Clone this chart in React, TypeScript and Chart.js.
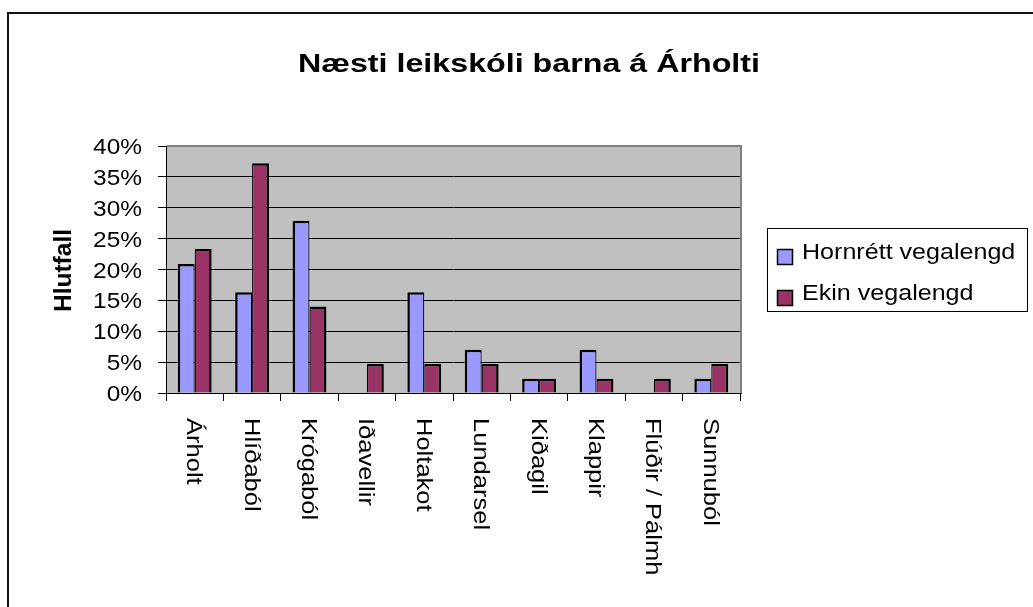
import React, { useEffect, useRef } from 'react';
import { Chart, registerables } from 'chart.js';

Chart.register(...registerables);

const chartTitle = 'Næsti leikskóli barna á Árholti';
const yAxisTitle = 'Hlutfall';
const categories = [
  'Árholt',
  'Hlíðaból',
  'Krógaból',
  'Iðavellir',
  'Holtakot',
  'Lundarsel',
  'Kiðagil',
  'Klappir',
  'Flúðir / Pálmh',
  'Sunnuból',
];
const seriesNames = ['Hornrétt vegalengd', 'Ekin vegalengd'];
const hornrett = [20.9, 16.3, 27.9, 0, 16.3, 7.0, 2.3, 7.0, 0, 2.3];
const ekin = [23.3, 37.2, 14.0, 4.7, 4.7, 4.7, 2.3, 2.3, 2.3, 4.7];
const yMin = 0;
const yMax = 40;
const yStep = 5;

const FONT = '"Liberation Sans", Arial, sans-serif';
const BLUE = '#9999FF';
const PLUM = '#993366';

function drawText(
  ctx: CanvasRenderingContext2D,
  text: string,
  x: number,
  y: number,
  font: string,
  sx: number,
  rot: number,
  align: CanvasTextAlign,
  baseline: CanvasTextBaseline
) {
  ctx.save();
  ctx.translate(x, y);
  ctx.rotate(rot);
  ctx.scale(sx, 1);
  ctx.font = font;
  ctx.textAlign = align;
  ctx.textBaseline = baseline;
  ctx.fillStyle = '#000';
  ctx.fillText(text, 0, 0);
  ctx.restore();
}

function fitScale(ctx: CanvasRenderingContext2D, text: string, font: string, target: number) {
  ctx.save();
  ctx.font = font;
  const w = ctx.measureText(text).width;
  ctx.restore();
  return w > 0 ? target / w : 1;
}

const decorPlugin = {
  id: 'excelDecor',
  beforeDraw(chart: any) {
    const ctx: CanvasRenderingContext2D = chart.ctx;
    const a = chart.chartArea;
    ctx.save();
    ctx.fillStyle = '#fff';
    ctx.fillRect(0, 0, chart.width, chart.height);
    // outer chart frame (only top and left are inside the view)
    ctx.strokeStyle = '#111';
    ctx.lineWidth = 2;
    ctx.beginPath();
    ctx.moveTo(8, chart.height + 5);
    ctx.lineTo(8, 13);
    ctx.lineTo(chart.width + 5, 13);
    ctx.stroke();
    // plot area
    ctx.fillStyle = '#C0C0C0';
    ctx.fillRect(a.left, a.top, a.right - a.left, a.bottom - a.top);
    ctx.restore();
  },
  afterDatasetsDraw(chart: any) {
    const ctx: CanvasRenderingContext2D = chart.ctx;
    const a = chart.chartArea;
    ctx.save();
    ctx.strokeStyle = '#808080';
    ctx.lineWidth = 2;
    ctx.beginPath();
    ctx.moveTo(a.left + 1, a.top);
    ctx.lineTo(a.right + 1, a.top);
    ctx.lineTo(a.right + 1, a.bottom);
    ctx.stroke();
    ctx.strokeStyle = '#000';
    ctx.lineWidth = 1;
    ctx.beginPath();
    ctx.moveTo(a.left, a.bottom + 0.5);
    ctx.lineTo(a.right + 2, a.bottom + 0.5);
    ctx.stroke();
    ctx.restore();
  },
  afterDraw(chart: any) {
    const ctx: CanvasRenderingContext2D = chart.ctx;
    const a = chart.chartArea;

    // title
    const tFont = `bold 26px ${FONT}`;
    drawText(ctx, chartTitle, 529, 72, tFont, fitScale(ctx, chartTitle, tFont, 462), 0, 'center', 'alphabetic');

    // y axis title
    const yFont = `bold 24px ${FONT}`;
    drawText(ctx, yAxisTitle, 71, (a.top + a.bottom) / 2 + 1, yFont, fitScale(ctx, yAxisTitle, yFont, 83), -Math.PI / 2, 'center', 'alphabetic');

    // y tick labels from the scale's own ticks
    const ys = chart.scales.y;
    const tickFont = `22px ${FONT}`;
    ys.ticks.forEach((t: any) => {
      const py = ys.getPixelForValue(t.value);
      drawText(ctx, `${t.value}%`, 142, py + 8, tickFont, 1.11, 0, 'right', 'alphabetic');
    });

    // category labels, rotated clockwise
    const xs = chart.scales.x;
    const lFont = `22px ${FONT}`;
    chart.data.labels.forEach((lab: string, i: number) => {
      const cx = xs.getPixelForTick(i);
      drawText(ctx, lab, cx - 7.5, a.bottom + 25, lFont, 1.16, Math.PI / 2, 'left', 'alphabetic');
    });

    // legend
    ctx.save();
    ctx.strokeStyle = '#000';
    ctx.lineWidth = 1;
    ctx.strokeRect(767.5, 228.5, 260, 83);
    ctx.restore();
    const rows = [
      { my: 249.5, ty: 259 },
      { my: 290.5, ty: 300 },
    ];
    chart.data.datasets.forEach((ds: any, i: number) => {
      const r = rows[i];
      ctx.save();
      ctx.fillStyle = ds.backgroundColor;
      ctx.fillRect(777.5, r.my, 15, 15);
      ctx.strokeStyle = '#000';
      ctx.lineWidth = 1.5;
      ctx.strokeRect(777.5, r.my, 15, 15);
      ctx.restore();
      drawText(ctx, ds.label, 802, r.ty, `22px ${FONT}`, 1.14, 0, 'left', 'alphabetic');
    });
  },
};

export default function App() {
  const ref = useRef<HTMLCanvasElement | null>(null);

  useEffect(() => {
    if (!ref.current) return;
    const chart = new Chart(ref.current, {
      type: 'bar',
      data: {
        labels: categories,
        datasets: [
          {
            label: seriesNames[0],
            data: hornrett,
            backgroundColor: BLUE,
            borderColor: '#000',
            borderWidth: { top: 2.5, left: 2.5, right: 1.2, bottom: 0 },
          },
          {
            label: seriesNames[1],
            data: ekin,
            backgroundColor: PLUM,
            borderColor: '#000',
            borderWidth: { top: 2.5, left: 1.2, right: 2.5, bottom: 0 },
          },
        ],
      },
      options: {
        responsive: false,
        animation: false,
        devicePixelRatio: 1,
        layout: { padding: { top: 146, right: 293, left: 0, bottom: 0 } },
        datasets: { bar: { categoryPercentage: 0.59, barPercentage: 1 } },
        plugins: {
          legend: { display: false },
          title: { display: false },
          tooltip: { enabled: false },
        },
        scales: {
          x: {
            grid: { offset: true, drawOnChartArea: false, drawTicks: true, tickLength: 8, color: '#000' },
            border: { color: '#000', width: 1 },
            ticks: { display: false },
            afterFit: (s: any) => {
              s.height = 214;
            },
          },
          y: {
            min: yMin,
            max: yMax,
            ticks: {
              stepSize: yStep,
              display: false,
            },
            grid: { color: '#000', tickLength: 8, lineWidth: 1 },
            border: { color: '#000', width: 1 },
            afterFit: (s: any) => {
              s.width = 166;
            },
          },
        },
      } as any,
      plugins: [decorPlugin as any],
    });
    return () => chart.destroy();
  }, []);

  return (
    <div style={{ position: 'fixed', left: 0, top: 0, width: 1033, height: 607, background: '#fff' }}>
      <canvas ref={ref} width={1033} height={607} style={{ display: 'block' }} />
    </div>
  );
}
